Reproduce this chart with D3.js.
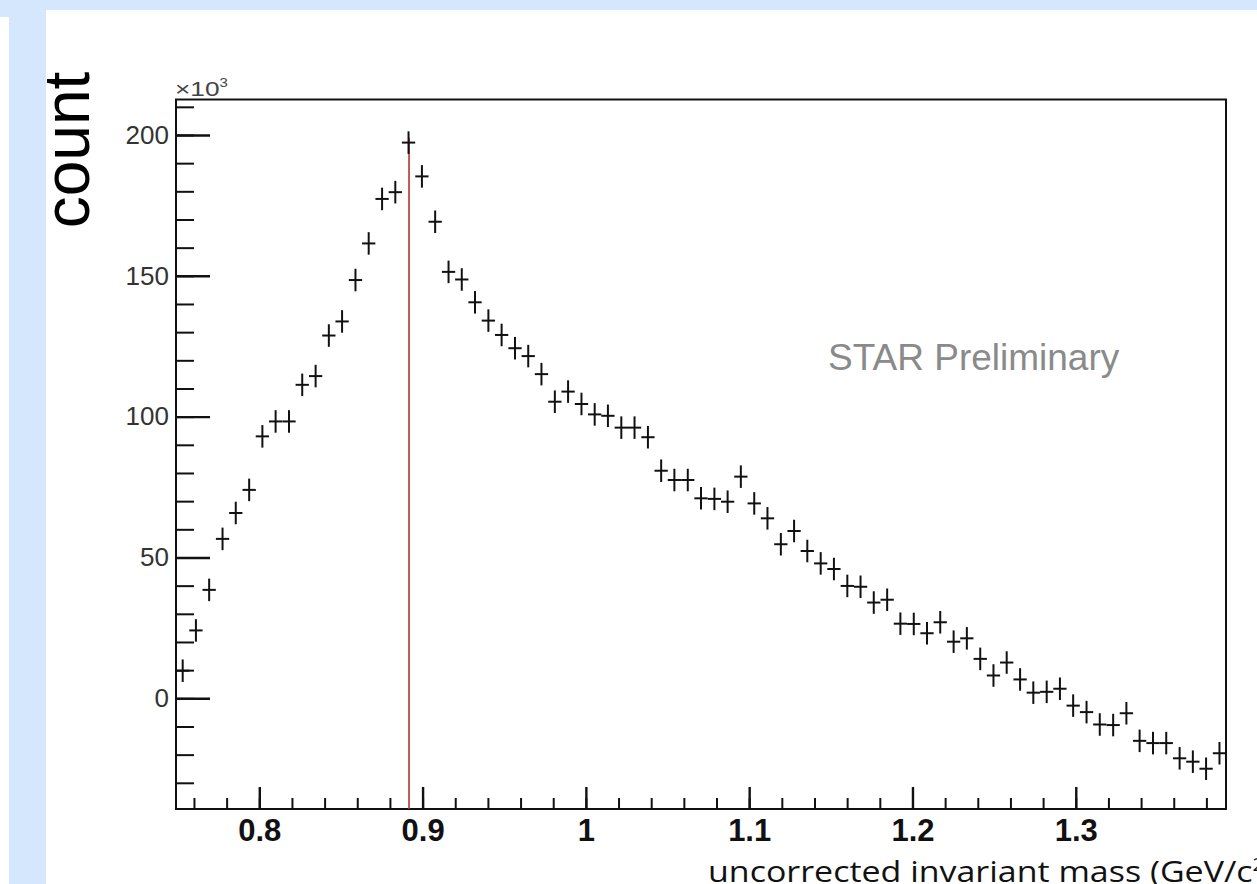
<!DOCTYPE html>
<html>
<head>
<meta charset="utf-8">
<script src="https://cdn.jsdelivr.net/npm/d3@7"></script>
<style>
  body { margin: 0; background: #fff; }
  svg { display: block; }
  .axis text { font-family: "Liberation Sans", Arial, sans-serif; }
</style>
</head>
<body>
<script>
// bin centres (GeV/c^2) and counts (x10^3)
var masses = [
  0.7531, 0.7612, 0.7693, 0.7775, 0.7856, 0.7938, 0.8019, 0.8100, 0.8182, 0.8263,
  0.8345, 0.8426, 0.8507, 0.8589, 0.8670, 0.8752, 0.8833, 0.8914, 0.8996, 0.9077,
  0.9159, 0.9240, 0.9321, 0.9403, 0.9484, 0.9566, 0.9647, 0.9728, 0.9810, 0.9891,
  0.9973, 1.0054, 1.0135, 1.0217, 1.0298, 1.0380, 1.0461, 1.0542, 1.0624, 1.0705,
  1.0787, 1.0868, 1.0949, 1.1031, 1.1112, 1.1194, 1.1275, 1.1356, 1.1438, 1.1519,
  1.1601, 1.1682, 1.1763, 1.1845, 1.1926, 1.2008, 1.2089, 1.2170, 1.2252, 1.2333,
  1.2415, 1.2496, 1.2577, 1.2659, 1.2740, 1.2822, 1.2903, 1.2984, 1.3066, 1.3147,
  1.3229, 1.3310, 1.3391, 1.3473, 1.3554, 1.3636, 1.3717, 1.3798, 1.3880
];
var counts = [
  9.8, 24.1, 38.5, 56.6, 65.8, 74.0, 93.0, 98.3, 98.3, 111.3,
  114.4, 128.8, 133.8, 148.5, 161.5, 177.3, 179.7, 197.3, 185.3, 169.2,
  151.4, 148.7, 140.6, 134.1, 129.0, 124.3, 121.5, 115.1, 105.3, 108.9,
  104.5, 100.8, 100.3, 96.1, 96.1, 92.7, 80.8, 77.5, 77.5, 71.0,
  70.8, 69.8, 78.7, 69.2, 63.9, 54.7, 59.4, 52.3, 47.9, 45.9,
  39.9, 39.6, 34.0, 35.0, 26.5, 26.4, 23.1, 27.0, 20.1, 21.3,
  14.0, 8.1, 12.7, 6.7, 2.0, 2.3, 3.4, -2.6, -4.9, -9.3,
  -9.5, -5.3, -15.1, -15.9, -15.9, -21.3, -22.5, -25.0, -19.5
];
var countErr = 4.0;        // vertical error bar half height, x10^3
var binHalfWidth = 0.00407;
var peakMass = 0.8917;     // red marker line
var peakTop = 199;

var xTickValues = [0.8, 0.9, 1.0, 1.1, 1.2, 1.3];
var xTickLabels = ["0.8", "0.9", "1", "1.1", "1.2", "1.3"];
var yTickValues = [0, 50, 100, 150, 200];
var yTickLabels = ["0", "50", "100", "150", "200"];

var W = 1257, H = 884;
var plot = {left: 176, top: 99.5, right: 1226, bottom: 809};

var svg = d3.select("body").append("svg")
    .attr("width", W)
    .attr("height", H);

// slide background
svg.append("rect").attr("width", W).attr("height", H).style("fill", "#d5e7fc");
svg.append("rect").attr("x", 46).attr("y", 10).attr("width", W - 46).attr("height", H - 10).style("fill", "#fff");
svg.append("rect").attr("x", 0).attr("y", 17).attr("width", 9).attr("height", H - 17).style("fill", "#fff");

var x = d3.scaleLinear().domain([0.749, 1.392]).range([plot.left, plot.right]);
var y = d3.scaleLinear().domain([-39.3, 212.6]).range([plot.bottom, plot.top]);

// minor ticks
svg.append("g")
    .attr("transform", "translate(" + plot.left + ",0)")
    .call(d3.axisLeft(y).tickValues(d3.range(-30, 215, 10)).tickSizeInner(-18).tickSizeOuter(0).tickFormat(""))
    .call(function(g) { g.select(".domain").remove(); })
    .selectAll("line").style("stroke", "#111").style("stroke-width", "2px");

svg.append("g")
    .attr("transform", "translate(0," + plot.bottom + ")")
    .call(d3.axisBottom(x).tickValues(d3.range(0.76, 1.385, 0.02)).tickSizeInner(-11).tickSizeOuter(0).tickFormat(""))
    .call(function(g) { g.select(".domain").remove(); })
    .selectAll("line").style("stroke", "#111").style("stroke-width", "2px");

// major ticks + labels
var yAxis = svg.append("g")
    .attr("class", "axis")
    .attr("transform", "translate(" + plot.left + ",0)")
    .call(d3.axisLeft(y).tickValues(yTickValues).tickSizeInner(-34).tickSizeOuter(0).tickPadding(7)
      .tickFormat(function(d, i) { return yTickLabels[i]; }))
    .call(function(g) { g.select(".domain").remove(); });
yAxis.selectAll("line").style("stroke", "#111").style("stroke-width", "2.4px");
yAxis.selectAll("text").style("font-size", "26px").style("fill", "#333");

var xAxis = svg.append("g")
    .attr("class", "axis")
    .attr("transform", "translate(0," + plot.bottom + ")")
    .call(d3.axisBottom(x).tickValues(xTickValues).tickSizeInner(-22).tickSizeOuter(0).tickPadding(10)
      .tickFormat(function(d, i) { return xTickLabels[i]; }))
    .call(function(g) { g.select(".domain").remove(); });
xAxis.selectAll("line").style("stroke", "#111").style("stroke-width", "2.4px");
xAxis.selectAll("text").style("font-size", "31px").style("font-weight", "bold").style("fill", "#111");

// frame
svg.append("rect")
    .attr("x", plot.left).attr("y", plot.top)
    .attr("width", plot.right - plot.left).attr("height", plot.bottom - plot.top)
    .style("fill", "none").style("stroke", "#111").style("stroke-width", "2px");

// red line at the peak
svg.append("line")
    .attr("x1", x(peakMass)).attr("x2", x(peakMass))
    .attr("y1", y(-39.3)).attr("y2", y(peakTop))
    .style("stroke", "#b5332e").style("stroke-width", "1.6px");

// data points as crosses
var pts = svg.append("g").selectAll("g")
    .data(masses.map(function(m, i) { return {m: m, c: counts[i]}; }))
  .enter().append("g");

pts.append("line")
    .attr("x1", function(d) { return x(d.m - binHalfWidth); })
    .attr("x2", function(d) { return x(d.m + binHalfWidth); })
    .attr("y1", function(d) { return y(d.c); })
    .attr("y2", function(d) { return y(d.c); });
pts.append("line")
    .attr("x1", function(d) { return x(d.m); })
    .attr("x2", function(d) { return x(d.m); })
    .attr("y1", function(d) { return y(d.c - countErr); })
    .attr("y2", function(d) { return y(d.c + countErr); });
pts.selectAll("line").style("stroke", "#111").style("stroke-width", "2px");

// texts
svg.append("text")
    .attr("transform", "translate(175,96) scale(1.25,1)")
    .style("font-family", "Liberation Sans, Arial, sans-serif")
    .style("font-size", "21px").style("fill", "#444")
    .html('×10<tspan dy="-9" font-size="12px">3</tspan>');

svg.append("text")
    .attr("transform", "translate(89,150) rotate(-90)")
    .attr("text-anchor", "middle")
    .style("font-family", "Liberation Sans, Arial, sans-serif")
    .style("font-size", "64px").style("fill", "#000")
    .text("count");

svg.append("text")
    .attr("x", 828).attr("y", 370)
    .style("font-family", "Liberation Sans, Arial, sans-serif")
    .style("font-size", "37px").style("fill", "#8a8a8a")
    .text("STAR Preliminary");

svg.append("text")
    .attr("transform", "translate(708,882) scale(1.132,1)")
    .style("font-family", "Open Sans, sans-serif")
    .style("font-size", "30px").style("fill", "#111")
    .html('uncorrected invariant mass (GeV/c<tspan dy="-11" font-size="18px">2</tspan><tspan dy="11">)</tspan>');
</script>
</body>
</html>
